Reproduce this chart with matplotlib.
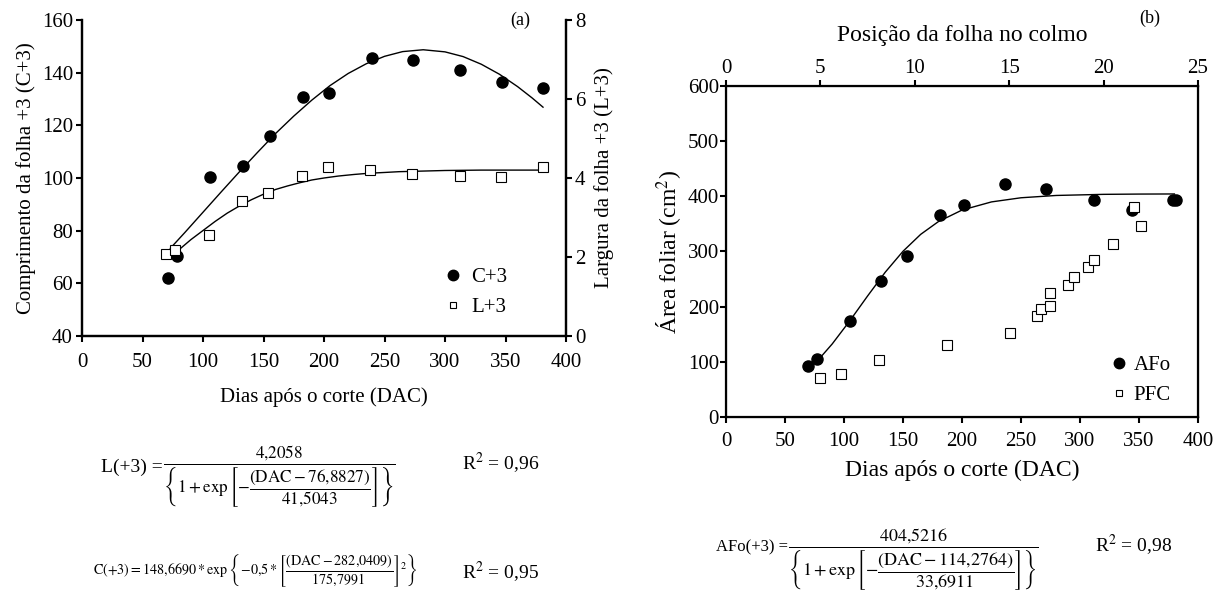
import numpy as np
import matplotlib.pyplot as plt
from matplotlib.lines import Line2D

plt.rcParams['font.family'] = ['Liberation Serif', 'DejaVu Serif']
plt.rcParams['mathtext.fontset'] = 'stix'

# (a) pontos observados
dac_c = [71, 78.6, 105.5, 133, 155, 182.4, 204, 239.3, 273.8, 312.2, 346.8, 381.3]
c3 = [62.0, 70.3, 100.3, 104.4, 116.1, 130.9, 132.3, 145.7, 144.9, 141.0, 136.5, 134.0]
dac_l = [69.7, 77, 105, 132, 154, 182, 203.5, 238, 272.8, 312, 346, 380.6]
l3 = [2.07, 2.17, 2.55, 3.42, 3.62, 4.05, 4.27, 4.21, 4.10, 4.05, 4.03, 4.27]

# (a) curvas ajustadas
fit_c_x = [73, 85, 100, 115, 130, 145, 160, 175, 190, 205, 220, 235, 250, 265, 282,
           300, 315, 330, 345, 360, 372, 381]
fit_c_y = [73.3, 79.3, 87.0, 94.7, 102.3, 109.7, 116.9, 123.5, 129.6, 135.1, 139.7,
           143.4, 146.2, 148.0, 148.7, 147.9, 146.1, 143.2, 139.4, 134.7, 130.4, 126.9]
fit_l_x = [72, 80, 90, 100, 110, 120, 130, 140, 150, 160, 170, 180, 190, 200, 212,
           225, 237, 250, 262, 275, 300, 330, 360, 381]
fit_l_y = [2.00, 2.18, 2.44, 2.67, 2.90, 3.11, 3.29, 3.45, 3.59, 3.71, 3.80, 3.88,
           3.95, 4.00, 4.05, 4.09, 4.12, 4.14, 4.16, 4.17, 4.19, 4.20, 4.20, 4.20]

# (b) pontos observados
dac_afo = [69.9, 77, 105, 131, 153.8, 181.5, 202, 236.7, 271.5, 311.9, 344.4, 378.5, 381]
afo = [92, 106, 174, 247, 291, 367, 385, 423, 413, 394, 376, 394, 394]
dac_pfc = [79.3, 97.2, 130, 187, 241, 263.7, 267, 274.5, 274.5, 289.8, 295, 307, 312,
           328, 346, 352]
pfc = [71, 78, 104, 130, 153, 183, 196, 202, 225, 239, 254, 272, 284, 314, 381, 347]

fit_a_x = [77, 90, 105, 120, 135, 150, 165, 180, 200, 225, 250, 280, 320, 350, 380]
fit_a_y = [100.6, 132.4, 174.6, 219.4, 262.6, 300.4, 331.1, 354.2, 375.1, 389.9,
           397.4, 401.6, 403.6, 404.1, 404.3]

fig = plt.figure(figsize=(12.22, 6.10), dpi=100)
W, H = 1222, 610


def box(x0, y0, x1, y1):
    return [x0 / W, 1 - y1 / H, (x1 - x0) / W, (y1 - y0) / H]


def fx(px):
    return px / W


def fy(py):
    return 1 - py / H


def leg_handles():
    return [Line2D([], [], ls='none', marker='o', color='black', ms=7.5),
            Line2D([], [], ls='none', marker='s', mfc='white', mec='black',
                   mew=0.8, ms=5)]


# ---------- painel (a) ----------
ax = fig.add_axes(box(82, 20, 566, 336))
ax2 = ax.twinx()
ax.plot(fit_c_x, fit_c_y, color='black', lw=1.0, zorder=2)
ax.plot(dac_c, c3, 'o', color='black', ms=8, zorder=3)
ax2.plot(fit_l_x, fit_l_y, color='black', lw=1.0, zorder=2)
ax2.plot(dac_l, l3, 's', mfc='white', mec='black', mew=0.8, ms=6.5, zorder=3)

ax.set_xlim(0, 400)
ax.set_ylim(40, 160)
ax2.set_ylim(0, 8)
ax.set_xticks(range(0, 401, 50))
ax.set_yticks(range(40, 161, 20))
ax2.set_yticks(range(0, 9, 2))
for a in (ax, ax2):
    a.spines['top'].set_visible(False)
    a.tick_params(direction='out', length=4, width=1.5, labelsize=15, pad=2.5)
    for s in a.spines.values():
        s.set_linewidth(1.6)
ax.tick_params(axis='x', pad=8)
ax.set_xlabel('Dias após o corte (DAC)', fontsize=15, labelpad=11)
ax.set_ylabel('Comprimento da folha +3 (C+3)', fontsize=15, labelpad=4)
ax2.set_ylabel('Largura da folha +3 (L+3)', fontsize=15, labelpad=6)
ax.text(0.905, 1.0, '(a)', transform=ax.transAxes, fontsize=13, ha='center', va='center')

ax2.legend(leg_handles(), ['C+3', 'L+3'], loc='center left',
           bbox_to_anchor=(fx(446), fy(292)), bbox_transform=fig.transFigure,
           frameon=False, fontsize=15, handlelength=0.7, handletextpad=0.5,
           labelspacing=0.5, borderpad=0, borderaxespad=0)

# ---------- painel (b) ----------
bx = fig.add_axes(box(726, 86, 1198, 417))
bx.plot(fit_a_x, fit_a_y, color='black', lw=1.0, zorder=2)
bx.plot(dac_afo, afo, 'o', color='black', ms=8, zorder=3)
bx.plot(dac_pfc, pfc, 's', mfc='white', mec='black', mew=0.8, ms=6.5, zorder=3)
bx.set_xlim(0, 400)
bx.set_ylim(0, 600)
bx.set_xticks(range(0, 401, 50))
bx.set_yticks(range(0, 601, 100))
bx.tick_params(direction='out', length=4, width=1.5, labelsize=15, pad=1)
bx.tick_params(axis='x', pad=7)
for s in bx.spines.values():
    s.set_linewidth(1.6)
bx.set_xlabel('Dias após o corte (DAC)', fontsize=17, labelpad=6)
bx.set_ylabel('Área foliar (cm$^2$)', fontsize=17, labelpad=2)
bx.legend(leg_handles(), ['AFo', 'PFC'], loc='center left',
          bbox_to_anchor=(fx(1113), fy(380)), bbox_transform=fig.transFigure,
          frameon=False, fontsize=15, handlelength=0.6, handletextpad=0.4,
          labelspacing=0.5, borderpad=0, borderaxespad=0)

top = bx.twiny()
top.set_xlim(0, 25)
top.set_xticks(range(0, 26, 5))
top.tick_params(direction='out', length=4, width=1.5, labelsize=15, pad=2)
top.set_xlabel('Posição da folha no colmo', fontsize=17, labelpad=13)
fig.text(fx(1150), fy(18), '(b)', fontsize=13, ha='center', va='center')

# ---------- equações ----------
frac_l = (r'$\dfrac{4{,}2058}{\left\{1+\exp\left[-\dfrac{(\mathrm{DAC}'
          r'-76{,}8827)}{41{,}5043}\right]\right\}}$')
eq_c = (r'$\mathrm{C(+3)}=148{,}6690*\exp\left\{-0{,}5*\left[\dfrac{(\mathrm{DAC}'
        r'-282{,}0409)}{175{,}7991}\right]^2\right\}$')
frac_a = (r'$\dfrac{404{,}5216}{\left\{1+\exp\left[-\dfrac{(\mathrm{DAC}'
          r'-114{,}2764)}{33{,}6911}\right]\right\}}$')

fig.text(fx(163), fy(467), 'L(+3) =', fontsize=14, ha='right', va='center')
fig.text(fx(163), fy(477), frac_l, fontsize=12.3, ha='left', va='center')
fig.text(fx(462), fy(463), r'R$^2$ = 0,96', fontsize=14, ha='left', va='center')
fig.text(fx(93), fy(571), eq_c, fontsize=10.2, ha='left', va='center')
fig.text(fx(462), fy(572), r'R$^2$ = 0,95', fontsize=14, ha='left', va='center')
fig.text(fx(788), fy(547), 'AFo(+3) =', fontsize=12, ha='right', va='center')
fig.text(fx(788), fy(560), frac_a, fontsize=13, ha='left', va='center')
fig.text(fx(1095), fy(545), r'R$^2$ = 0,98', fontsize=14, ha='left', va='center')

fig.savefig('out.png', dpi=100)
